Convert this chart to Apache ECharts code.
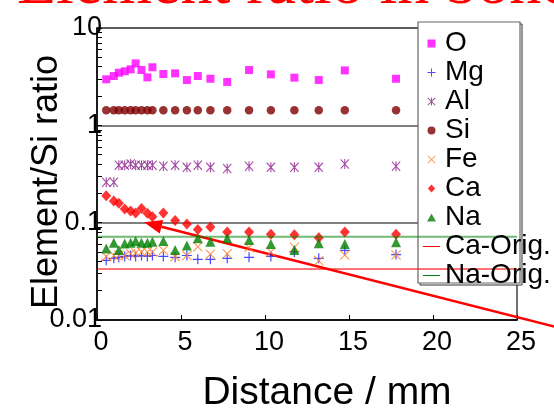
<!DOCTYPE html>
<html><head><meta charset="utf-8">
<script src="https://cdn.jsdelivr.net/npm/echarts@6/dist/echarts.min.js"></script>
<style>html,body{margin:0;padding:0;background:#fff}#c{width:554px;height:410px}</style>
</head><body><div id="c"></div>
<script>
// ---- data ----
const distance = [0.55, 1.0, 1.3, 1.65, 2.0, 2.3, 2.65, 3.0, 3.3, 3.95, 4.65, 5.35, 6.0, 6.75, 7.75, 9.05, 10.35, 11.75, 13.2, 14.75, 17.8];
const oRatio  = [2.97, 3.21, 3.47, 3.59, 3.76, 4.33, 3.70, 3.11, 3.95, 3.37, 3.42, 2.92, 3.21, 3.01, 2.79, 3.70, 3.34, 3.09, 2.92, 3.67, 3.01];
const mgRatio = [0.041, 0.043, 0.044, 0.045, 0.046, 0.045, 0.046, 0.045, 0.046, 0.045, 0.044, 0.046, 0.042, 0.042, 0.043, 0.044, 0.045, 0.050, 0.043, 0.052, 0.047];
const alRatio = [0.26, 0.26, 0.39, 0.39, 0.40, 0.39, 0.39, 0.39, 0.39, 0.38, 0.39, 0.37, 0.39, 0.37, 0.36, 0.38, 0.37, 0.37, 0.37, 0.40, 0.38];
const siRatio = [1.43, 1.43, 1.43, 1.43, 1.43, 1.43, 1.43, 1.43, 1.43, 1.43, 1.43, 1.43, 1.43, 1.43, 1.43, 1.43, 1.43, 1.43, 1.43, 1.43, 1.43];
const feRatio = [0.045, 0.046, 0.046, 0.046, 0.048, 0.049, 0.050, 0.050, 0.050, 0.052, 0.045, 0.046, 0.0565, 0.0475, 0.048, 0.0555, 0.050, 0.056, 0.0405, 0.0465, 0.0465];
const caRatio = [0.189, 0.167, 0.158, 0.138, 0.132, 0.126, 0.140, 0.125, 0.115, 0.126, 0.105, 0.097, 0.085, 0.090, 0.080, 0.080, 0.076, 0.075, 0.070, 0.080, 0.076];
const naRatio = [0.0544, 0.0621, 0.0523, 0.0612, 0.0621, 0.0647, 0.0621, 0.0621, 0.0636, 0.0647, 0.0523, 0.0584, 0.0690, 0.0636, 0.0690, 0.0662, 0.0603, 0.0523, 0.0615, 0.0603, 0.0630];
const caOrig = 0.0334;
const naOrig = 0.0716;
const origSpan = [0, 25];
// annotation arrow: tip and a second point on its shaft (data coords)
const arrowPath = [[2.8, 0.101], [25, 0.0107]];
const legendNames = ['O', 'Mg', 'Al', 'Si', 'Fe', 'Ca', 'Na', 'Ca-Orig.', 'Na-Orig.'];
const yTickValues = [0.01, 0.02, 0.03, 0.04, 0.05, 0.06, 0.07, 0.08, 0.09, 0.1, 0.2, 0.3, 0.4, 0.5, 0.6, 0.7, 0.8, 0.9, 1, 2, 3, 4, 5, 6, 7, 8, 9, 10];
const titleText = 'Element ratio in bones';

// ---- build ----
const pts = ys => distance.map((d, i) => [d, ys[i]]);
const SQ = 'path://M0,0 H10 V10 H0 Z';
const PLUS = 'path://M4.4,0 H5.6 V4.4 H10 V5.6 H5.6 V10 H4.4 V5.6 H0 V4.4 H4.4 Z';
const XMARK = 'path://M0,0.8 L0.8,0 L10,9.2 L9.2,10 Z M10,0.8 L0.8,10 L0,9.2 L9.2,0 Z';
const AST = 'path://M4.4,0 H5.6 V10 H4.4 Z M0,0.8 L0.8,0 L10,9.2 L9.2,10 Z M10,0.8 L0.8,10 L0,9.2 L9.2,0 Z';
const DIA = 'path://M5,0 L10,5.5 L5,11 L0,5.5 Z';
const TRI = 'path://M5,0 L10,9 L0,9 Z';
const CIR = 'path://M5,0 A5,5 0 1 1 4.99,0 Z';
const LINEICON = 'path://M0,4.5 H17 V5.5 H0 Z';
const legendIcons = {'O': SQ, 'Mg': PLUS, 'Al': AST, 'Si': CIR, 'Fe': XMARK, 'Ca': DIA, 'Na': TRI, 'Ca-Orig.': LINEICON, 'Na-Orig.': LINEICON};
const sans = 'Liberation Sans';

const chart = echarts.init(document.getElementById('c'), null, {renderer: 'canvas'});
chart.setOption({
  animation: false,
  backgroundColor: '#fff',
  title: {
    text: titleText, left: 12, top: -51,
    textStyle: {fontFamily: 'Liberation Serif', fontSize: 64, fontWeight: 'normal', color: '#ff0000'}
  },
  grid: {left: 97, right: 37, top: 28, bottom: 90, containLabel: false, outerBoundsMode: 'none',
    show: true, borderColor: '#444', borderWidth: 1.5, backgroundColor: 'transparent'},
  xAxis: {
    type: 'value', min: 0, max: 25, interval: 5,
    name: 'Distance / mm', nameLocation: 'middle', nameGap: 54, nameMoveOverlap: false,
    nameTextStyle: {fontFamily: sans, fontSize: 39, color: '#000', padding: [0, 0, 0, 40]},
    axisLine: {show: true, lineStyle: {color: '#000', width: 1.5}},
    axisTick: {show: true, inside: true, length: 5, lineStyle: {color: '#000'}},
    axisLabel: {fontFamily: sans, fontSize: 27, color: '#000', margin: 9, padding: [0, 0, 0, 8]},
    splitLine: {show: false}
  },
  yAxis: [{
    type: 'log', logBase: 10, min: 0.01, max: 10,
    name: 'Element/Si ratio', nameLocation: 'middle', nameGap: 32, nameMoveOverlap: false,
    nameTextStyle: {fontFamily: sans, fontSize: 36, color: '#000', padding: [0, 16, 0, 0]},
    axisLine: {show: true, lineStyle: {color: '#000', width: 1.5}},
    axisTick: {show: false},
    axisLabel: {fontFamily: sans, fontSize: 27, color: '#000', margin: -5, padding: [0, 0, 6, 0],
      formatter: v => String(v)},
    splitLine: {show: true, lineStyle: {color: '#555', width: 1.5}}
  }, {
    type: 'log', logBase: 10, min: 0.01, max: 10, position: 'left',
    axisLine: {show: false},
    axisLabel: {show: false},
    splitLine: {show: false},
    axisTick: {show: true, inside: true, length: 5, customValues: yTickValues, lineStyle: {color: '#000', width: 1}}
  }],
  legend: {
    orient: 'vertical', left: 418, top: 24, itemWidth: 17, itemHeight: 8, itemGap: 0,
    data: legendNames.map(n => ({name: n, icon: legendIcons[n]})),
    textStyle: {fontFamily: sans, fontSize: 28, color: '#000', lineHeight: 29},
    selectedMode: false
  },
  graphic: [
    {id: 'boxShadow', type: 'rect', z: 3, shape: {x: 420, y: 24, width: 102, height: 261}, style: {fill: '#fff', stroke: '#333', lineWidth: 1}},
    {id: 'box', type: 'rect', z: 3, shape: {x: 418, y: 22, width: 102, height: 261}, style: {fill: '#fff', stroke: '#666', lineWidth: 1.2}}
  ],
  series: [
    {name: 'O', type: 'scatter', symbol: 'rect', symbolSize: 8, itemStyle: {color: '#ff00ff'}, data: pts(oRatio)},
    {name: 'Mg', type: 'scatter', symbol: PLUS, symbolSize: 10, itemStyle: {color: '#1a1aff'}, data: pts(mgRatio)},
    {name: 'Al', type: 'scatter', symbol: AST, symbolSize: [9, 10], itemStyle: {color: '#8b1a8b'}, data: pts(alRatio)},
    {name: 'Si', type: 'scatter', symbol: 'circle', symbolSize: 8.5, itemStyle: {color: '#800000'}, data: pts(siRatio)},
    {name: 'Fe', type: 'scatter', symbol: XMARK, symbolSize: 10, itemStyle: {color: '#ff7f27'}, data: pts(feRatio)},
    {name: 'Ca', type: 'scatter', symbol: 'diamond', symbolSize: [10, 11], itemStyle: {color: '#ff0000'}, data: pts(caRatio)},
    {name: 'Na', type: 'scatter', symbol: 'triangle', symbolSize: [10, 10], itemStyle: {color: '#008000'}, data: pts(naRatio)},
    {name: 'Ca-Orig.', type: 'line', symbol: 'none', itemStyle: {color: '#ff0000'},
      lineStyle: {color: '#ff0000', width: 2, opacity: 0.55}, data: origSpan.map(x => [x, caOrig])},
    {name: 'Na-Orig.', type: 'line', symbol: 'none', itemStyle: {color: '#008000'},
      lineStyle: {color: '#008000', width: 2, opacity: 0.55}, data: origSpan.map(x => [x, naOrig])}
  ]
});

// annotation arrow, positioned through the chart's own scales and extended to the canvas edge
const p0 = chart.convertToPixel({gridIndex: 0}, arrowPath[0]);
const p1 = chart.convertToPixel({gridIndex: 0}, arrowPath[1]);
const dx = p1[0] - p0[0], dy = p1[1] - p0[1], len = Math.hypot(dx, dy);
const ux = dx / len, uy = dy / len;
const W = chart.getWidth() + 10;
const t = (W - p0[0]) / ux;
const tail = [p0[0] + ux * t, p0[1] + uy * t];
const headLen = 18, headHalf = 7;
const base = [p0[0] + ux * headLen, p0[1] + uy * headLen];
chart.setOption({
  graphic: [
    {id: 'arrowShaft', type: 'polyline', z: 2, silent: true, shape: {points: [base, tail]}, style: {stroke: '#ff0000', lineWidth: 2.5, fill: null}},
    {id: 'arrowHead', type: 'polygon', z: 2, silent: true, shape: {points: [p0,
      [base[0] - uy * headHalf, base[1] + ux * headHalf], [base[0] + uy * headHalf, base[1] - ux * headHalf]]},
      style: {fill: '#ff0000'}}
  ]
});
</script></body></html>
